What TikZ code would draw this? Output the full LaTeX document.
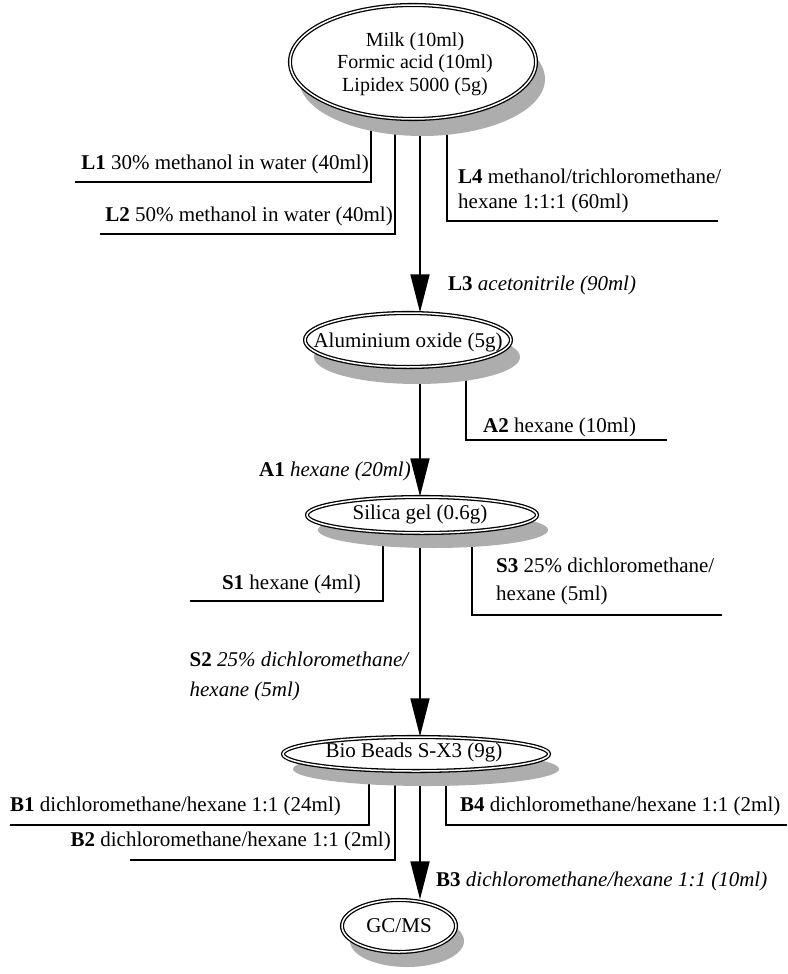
\documentclass[tikz,border=0pt]{standalone}
\usepackage{fontspec}
\setmainfont{Liberation Serif}
\usetikzlibrary{shapes.geometric,arrows.meta}
\pgfdeclarelayer{bg}
\pgfsetlayers{bg,main}
\begin{document}
\begin{tikzpicture}[x=1pt,y=-1pt,
  lbl/.style={inner sep=0pt, font=\fontsize{21}{25}\selectfont},
  ell/.style={ellipse, draw=black, line width=1.3pt, double=white, double distance=1.5pt, fill=white, inner sep=0pt},
  shd/.style={ellipse, fill=black!32, draw=none, inner sep=0pt},
  conn/.style={line width=1.8pt},
  arr/.style={line width=1.8pt, -{Triangle[length=38pt,width=19pt]}},
  etxt/.style={inner sep=0pt, font=\fontsize{21}{24}\selectfont, align=center}]
\useasboundingbox (0,0) rectangle (787,974);
\coordinate (ax) at (420,0);
% shadows
\node[shd, minimum width=246pt, minimum height=114pt] (E1s) at (422,79) {};
\node[shd, minimum width=206pt, minimum height=54pt] (E2s) at (417,357) {};
\node[shd, minimum width=230pt, minimum height=36pt] (E3s) at (433,530) {};
\node[shd, minimum width=266pt, minimum height=34pt] (E4s) at (426,769) {};
\node[shd, minimum width=114pt, minimum height=52pt] (E5s) at (407,941) {};
% ellipses
\node[ell, minimum width=246pt, minimum height=114pt] (E1) at (413,62) {};
\node[ell, minimum width=206pt, minimum height=54pt] (E2) at (408,340) {};
\node[ell, minimum width=230pt, minimum height=36pt] (E3) at (422,515) {};
\node[ell, minimum width=266pt, minimum height=34pt] (E4) at (416,754) {};
\node[ell, minimum width=114pt, minimum height=52pt] (E5) at (399,926) {};
% ellipse texts
\node[etxt, font=\fontsize{20}{22.5}\selectfont] (E1t) at (415,64) {Milk (10ml)\\Formic acid (10ml)\\Lipidex 5000 (5g)};
\node[etxt] (E2t) at (408,342) {Aluminium oxide (5g)};
\node[etxt] (E3t) at (420,514) {Silica gel (0.6g)};
\node[etxt] (E4t) at (414,752) {Bio Beads S-X3 (9g)};
\node[etxt] (E5t) at (399,926) {GC/MS};
% connectors
\coordinate (L1e) at (75,182);
\coordinate (L2e) at (100,234);
\coordinate (L4e) at (718,221);
\coordinate (A2e) at (667,440);
\coordinate (S1e) at (190,601);
\coordinate (S3e) at (722,615);
\coordinate (B1e) at (10,825);
\coordinate (B2e) at (130,860);
\coordinate (B4e) at (787,825);
\begin{pgfonlayer}{bg}
\draw[arr] (ax |- E1.center) -- (ax |- E2.north);
\draw[arr] (ax |- E2.center) -- (ax |- E3.north);
\draw[arr] (ax |- E3.center) -- (ax |- E4.north);
\draw[arr] (ax |- E4.center) -- (ax |- E5.north);
\draw[conn] ([xshift=-42pt]E1.center) |- (L1e);
\draw[conn] ([xshift=-18pt]E1.center) |- (L2e);
\draw[conn] ([xshift=34pt]E1.center) |- (L4e);
\draw[conn] ([xshift=58pt]E2.center) |- (A2e);
\draw[conn] ([xshift=-39pt]E3.center) |- (S1e);
\draw[conn] ([xshift=50pt]E3.center) |- (S3e);
\draw[conn] ([xshift=-47pt]E4.center) |- (B1e);
\draw[conn] ([xshift=-21pt]E4.center) |- (B2e);
\draw[conn] ([xshift=30pt]E4.center) |- (B4e);
\end{pgfonlayer}
% labels
\node[lbl, anchor=base east] (L1t) at (369,169) {\textbf{L1} 30\% methanol in water (40ml)};
\node[lbl, anchor=base east] (L2t) at (393,221) {\textbf{L2} 50\% methanol in water (40ml)};
\node[lbl, anchor=base west] (L4a) at (458,183) {\textbf{L4} methanol/trichloromethane/};
\node[lbl, anchor=base west] (L4b) at (458,208) {hexane 1:1:1 (60ml)};
\node[lbl, anchor=base west] (L3t) at (448,290) {\textbf{L3} \textit{acetonitrile (90ml)}};
\node[lbl, anchor=base west] (A2t) at (483,432) {\textbf{A2} hexane (10ml)};
\node[lbl, anchor=base east] (A1t) at (411,476) {\textbf{A1} \textit{hexane (20ml)}};
\node[lbl, anchor=base east] (S1t) at (361,589) {\textbf{S1} hexane (4ml)};
\node[lbl, anchor=base west] (S3a) at (496,572) {\textbf{S3} 25\% dichloromethane/};
\node[lbl, anchor=base west] (S3b) at (496,600) {hexane (5ml)};
\node[lbl, anchor=base east] (S2a) at (410,666) {\textbf{S2} \textit{25\% dichloromethane/}};
\node[lbl, anchor=base west] (S2b) at ([yshift=-30pt]S2a.base west) {\textit{hexane (5ml)}};
\node[lbl, anchor=base west] (B1t) at (10,811) {\textbf{B1} dichloromethane/hexane 1:1 (24ml)};
\node[lbl, anchor=base east] (B2t) at (391,846) {\textbf{B2} dichloromethane/hexane 1:1 (2ml)};
\node[lbl, anchor=base west] (B4t) at (460,811) {\textbf{B4} dichloromethane/hexane 1:1 (2ml)};
\node[lbl, anchor=base west] (B3t) at (436,886) {\textbf{B3} \textit{dichloromethane/hexane 1:1 (10ml)}};
\end{tikzpicture}
\end{document}
